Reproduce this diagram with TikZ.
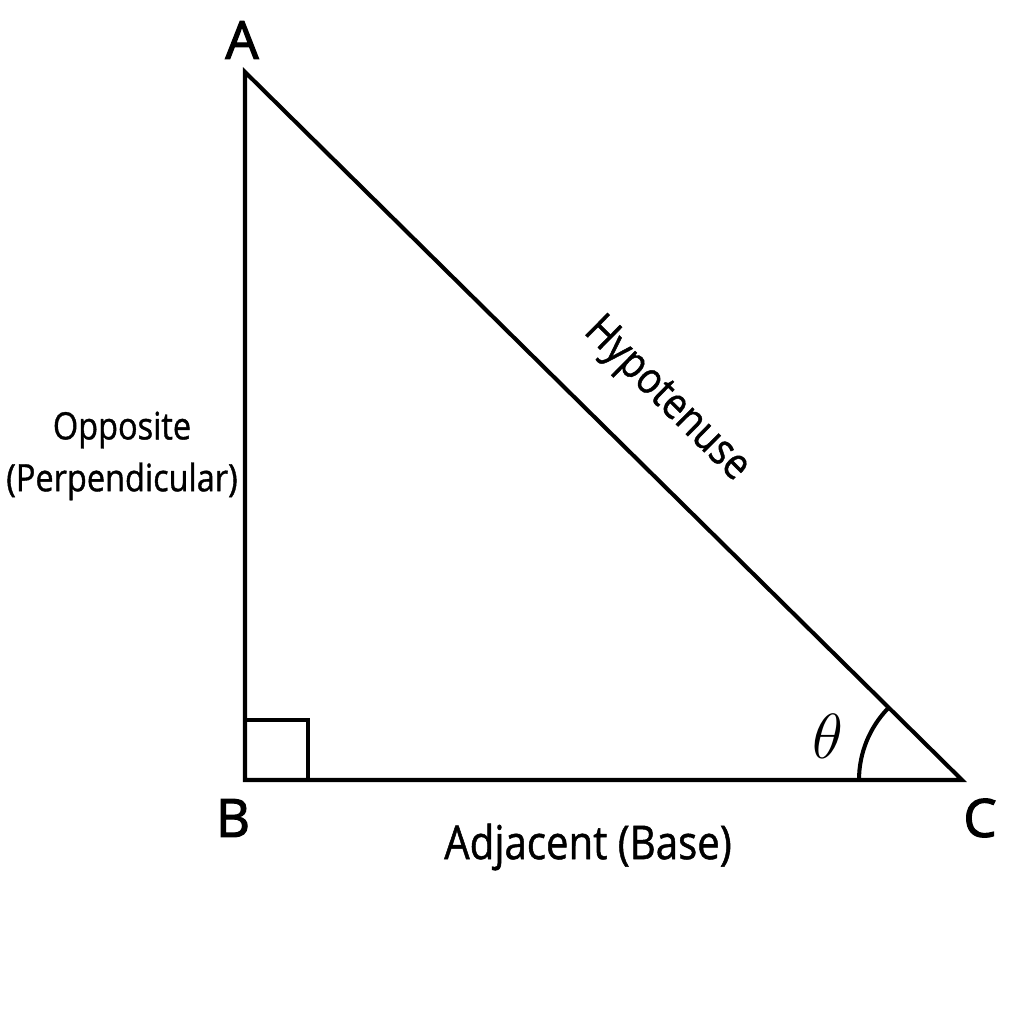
\documentclass[tikz,border=0pt]{standalone}
\usepackage{fontspec}
\usepackage{graphicx}
\setmainfont{Open Sans}[FakeStretch=0.86, FakeBold=1]
\newfontfamily\vtxfont{Open Sans}[FakeBold=2.2]
\begin{document}
\begin{tikzpicture}[x=0.02cm,y=0.02cm,
  edge/.style={line width=2.3pt, line join=miter},
  vtx/.style={font=\vtxfont\fontsize{30}{36}\selectfont, inner sep=0pt},
  lbl/.style={inner sep=0pt, align=center}]
\useasboundingbox[fill=white] (0,0) rectangle (1024,1024);
\coordinate (A) at (245,952);
\coordinate (B) at (245,244);
\coordinate (C) at (962,244);
\coordinate (S1) at (245,304);
\coordinate (S2) at (308,304);
\coordinate (S3) at (308,244);
\coordinate (T0) at (859,244);
\draw[edge] (A) -- (B) -- (C) -- cycle;
\draw[edge] (S1) -- (S2) -- (S3);
\draw[edge] (T0) arc[start angle=180, end angle=135.4, radius=103];
\node[vtx] (lA) at (242,984) {A};
\node[vtx] (lB) at (233,206) {B};
\node[vtx] (lC) at (980,206) {C};
\node[lbl, font=\fontsize{21.5}{29.5}\selectfont] (opp) at (122,568) {Opposite\\(Perpendicular)};
\node[lbl, font=\fontsize{25}{30}\selectfont, rotate=-44.6] (hyp) at (666,624) {Hypotenuse};
\node[lbl, font=\fontsize{26.6}{32}\selectfont] (adj) at (588,177) {Adjacent (Base)};
\node[lbl, font=\fontsize{20}{24}\selectfont] (th) at (828,288) {\scalebox{1.75}{$\theta$}};
\end{tikzpicture}
\end{document}
